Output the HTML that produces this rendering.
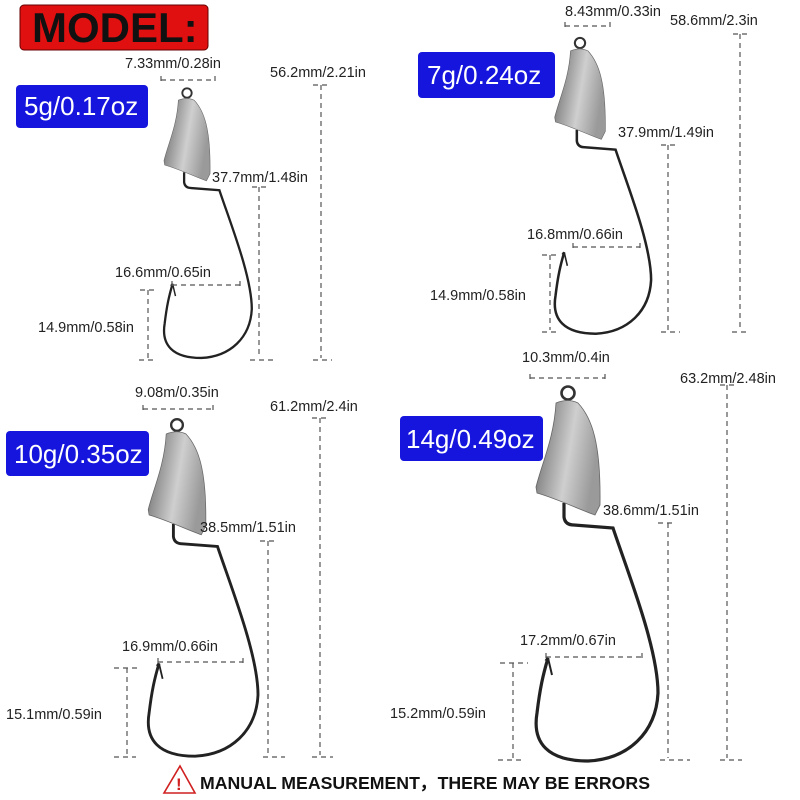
<!DOCTYPE html>
<html><head><meta charset="utf-8"><style>
html,body{margin:0;padding:0;background:#fff;width:800px;height:800px;overflow:hidden}
svg{display:block}
text{font-family:"Liberation Sans",sans-serif}
.m{font-size:14.5px;fill:#222}
.d{stroke:#555;stroke-width:1.2;stroke-dasharray:5,4;fill:none}
.lb{font-size:26px;fill:#fff}
</style></head><body>
<svg width="800" height="800" viewBox="0 0 800 800" xmlns="http://www.w3.org/2000/svg">
<defs>
<linearGradient id="wg" x1="0" y1="0" x2="1" y2="0.3">
<stop offset="0" stop-color="#404040"/><stop offset="0.25" stop-color="#909090"/><stop offset="0.6" stop-color="#cfcfcf"/><stop offset="1" stop-color="#9a9a9a"/></linearGradient>
<g id="hook">
<circle cx="0" cy="0" r="6.5" fill="none" stroke="#333" stroke-width="2.6"/>
<path d="M-4,110 L-4,124 Q-3,132 6,132 L45,135 C60,180 90,255 90,300 C88,340 60,366 20,368 C-20,368 -36,350 -31,320 C-28,295 -25,282 -20,265 L-22,268" fill="none" stroke="#222" stroke-width="3.2"/>
<path d="M-20,265 L-16,282" stroke="#222" stroke-width="2" fill="none"/>
<path d="M-12,10 Q0,5 10,10 C24,25 33,50 32,112 L27,122 C10,116 -10,106 -31,100 L-32,94 C-26,70 -14,45 -12,10Z" fill="url(#wg)" stroke="#666" stroke-width="0.8"/>
</g>
</defs>
<rect x="20" y="5" width="188" height="45" rx="4" fill="#e01010" stroke="#600" stroke-width="1"/>
<text x="32" y="42" font-size="42" font-weight="bold" fill="#111">MODEL:</text>

<use href="#hook" transform="translate(187,93) scale(0.72)"/>
<use href="#hook" transform="translate(580,43) scale(0.79)"/>
<use href="#hook" transform="translate(177,425) scale(0.9)"/>
<use href="#hook" transform="translate(568,393) scale(1.0)"/>

<rect x="16" y="85" width="132" height="43" rx="4" fill="#1515dd"/><text x="24" y="115" class="lb">5g/0.17oz</text>
<rect x="418" y="52" width="137" height="46" rx="4" fill="#1515dd"/><text x="427" y="84" class="lb">7g/0.24oz</text>
<rect x="6" y="431" width="143" height="45" rx="4" fill="#1515dd"/><text x="14" y="463" class="lb">10g/0.35oz</text>
<rect x="400" y="416" width="143" height="45" rx="4" fill="#1515dd"/><text x="406" y="448" class="lb">14g/0.49oz</text>

<text x="125" y="68" class="m">7.33mm/0.28in</text>
<path class="d" d="M161,80 H215 M161,76 V84 M215,76 V84"/>
<text x="270" y="77" class="m">56.2mm/2.21in</text>
<path class="d" d="M321,85 V358 M313,85 H330 M313,360 H332"/>
<text x="212" y="182" class="m">37.7mm/1.48in</text>
<path class="d" d="M259,187 V358 M252,187 H266 M250,360 H273"/>
<text x="115" y="277" class="m">16.6mm/0.65in</text>
<path class="d" d="M172,285 H240 M172,281 V289 M240,281 V289"/>
<text x="38" y="332" class="m">14.9mm/0.58in</text>
<path class="d" d="M148,290 V358 M140,290 H157 M139,360 H156"/>

<text x="565" y="16" class="m">8.43mm/0.33in</text>
<path class="d" d="M565,26 H610 M565,22 V30 M610,22 V30"/>
<text x="670" y="25" class="m">58.6mm/2.3in</text>
<path class="d" d="M740,34 V330 M733,34 H748 M732,332 H750"/>
<text x="618" y="137" class="m">37.9mm/1.49in</text>
<path class="d" d="M668,145 V330 M661,145 H675 M661,332 H680"/>
<text x="527" y="239" class="m">16.8mm/0.66in</text>
<path class="d" d="M573,247 H640 M573,243 V251 M640,243 V251"/>
<text x="430" y="300" class="m">14.9mm/0.58in</text>
<path class="d" d="M550,255 V330 M542,255 H559 M542,332 H558"/>

<text x="135" y="397" class="m">9.08m/0.35in</text>
<path class="d" d="M143,409 H213 M143,405 V413 M213,405 V413"/>
<text x="270" y="411" class="m">61.2mm/2.4in</text>
<path class="d" d="M320,418 V755 M312,418 H330 M312,757 H333"/>
<text x="200" y="532" class="m">38.5mm/1.51in</text>
<path class="d" d="M268,541 V755 M260,541 H276 M263,757 H285"/>
<text x="122" y="651" class="m">16.9mm/0.66in</text>
<path class="d" d="M158,662 H243 M158,658 V666 M243,658 V666"/>
<text x="6" y="719" class="m">15.1mm/0.59in</text>
<path class="d" d="M127,668 V755 M114,668 H138 M114,757 H136"/>

<text x="522" y="362" class="m">10.3mm/0.4in</text>
<path class="d" d="M530,378 H605 M530,374 V382 M605,374 V382"/>
<text x="680" y="383" class="m">63.2mm/2.48in</text>
<path class="d" d="M727,385 V758 M720,385 H738 M720,760 H742"/>
<text x="603" y="515" class="m">38.6mm/1.51in</text>
<path class="d" d="M668,523 V758 M658,523 H672 M660,760 H690"/>
<text x="520" y="645" class="m">17.2mm/0.67in</text>
<path class="d" d="M546,657 H642 M546,653 V661 M642,653 V661"/>
<text x="390" y="718" class="m">15.2mm/0.59in</text>
<path class="d" d="M513,663 V758 M500,663 H528 M498,760 H523"/>

<path d="M180,766 L195,793 L164,793 Z" fill="none" stroke="#d02020" stroke-width="1.6"/>
<text x="176" y="790" font-size="17" font-weight="bold" fill="#d02020">!</text>
<text x="200" y="789" font-size="17.5" font-weight="bold" fill="#111" textLength="450" lengthAdjust="spacingAndGlyphs">MANUAL MEASUREMENT，THERE MAY BE ERRORS</text>
</svg>
</body></html>
